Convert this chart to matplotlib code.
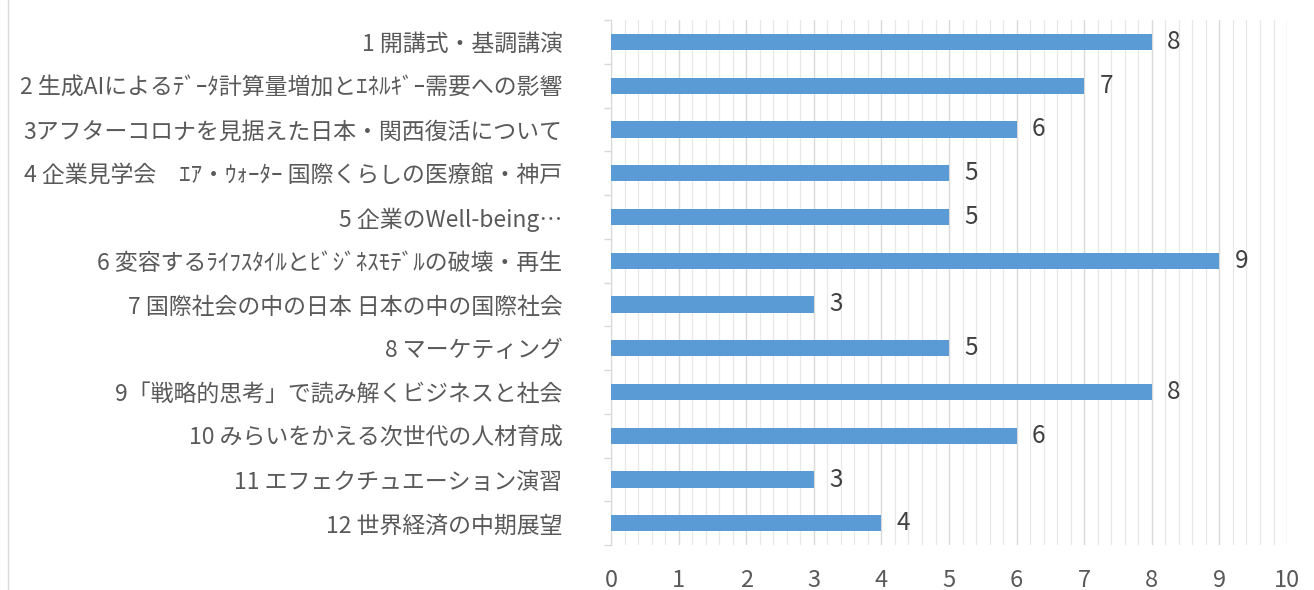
import matplotlib
matplotlib.use('Agg')
import matplotlib.pyplot as plt
from matplotlib.ticker import MultipleLocator
from matplotlib.lines import Line2D

plt.rcParams['font.family'] = ['Noto Sans CJK JP', 'DejaVu Sans']

labels = [
    '1 開講式・基調講演',
    '2 生成AIによるﾃﾞｰﾀ計算量増加とｴﾈﾙｷﾞｰ需要への影響',
    '3アフターコロナを見据えた日本・関西復活について',
    '4 企業見学会　ｴｱ・ｳｫｰﾀｰ 国際くらしの医療館・神戸',
    '5 企業のWell-being…',
    '6 変容するﾗｲﾌｽﾀｲﾙとﾋﾞｼﾞﾈｽﾓﾃﾞﾙの破壊・再生',
    '7 国際社会の中の日本 日本の中の国際社会',
    '8 マーケティング',
    '9「戦略的思考」で読み解くビジネスと社会',
    '10 みらいをかえる次世代の人材育成',
    '11 エフェクチュエーション演習',
    '12 世界経済の中期展望',
]
counts = [8, 7, 6, 5, 5, 9, 3, 5, 8, 6, 3, 4]

bar_color = '#5B9BD5'
text_color = '#595959'

fig = plt.figure(figsize=(13.14, 5.9), dpi=100)
ax = fig.add_axes([0.465, 0.076, 0.5145, 0.890])

ypos = list(range(len(labels)))
ax.barh(ypos, counts, height=0.37, color=bar_color, zorder=3)

for y, v in zip(ypos, counts):
    ax.annotate(str(v), (v, y), xytext=(11, 0), textcoords='offset points',
                va='center', ha='left', fontsize=17.5, color='#404040')

ax.set_xlim(0, 10)
ax.set_ylim(len(labels) - 0.5, -0.5)
ax.set_yticks(ypos)
ax.set_yticklabels(labels, fontsize=16.5, color=text_color)
ax.set_xticks(range(0, 11))
ax.tick_params(axis='x', labelsize=17, labelcolor=text_color, length=0, pad=17)
ax.tick_params(axis='y', length=0, pad=35)
ax.xaxis.set_minor_locator(MultipleLocator(0.2))
ax.tick_params(axis='x', which='minor', length=0)

# category boundary ticks on the left axis line
ax.set_yticks([i - 0.5 for i in range(len(labels) + 1)], minor=True)
ax.tick_params(axis='y', which='minor', length=5, color='#D9D9D9', width=1)

ax.grid(axis='x', which='major', color='#D9D9D9', linewidth=1, zorder=0)
ax.grid(axis='x', which='minor', color='#E8E8E8', linewidth=0.9, zorder=0)

for s in ['top', 'right', 'bottom']:
    ax.spines[s].set_visible(False)
ax.spines['left'].set_color('#D9D9D9')

# outer chart border on the left
fig.add_artist(Line2D([0.006, 0.006], [0, 1], transform=fig.transFigure,
                      color='#D9D9D9', linewidth=1))

plt.savefig('out.png', dpi=100)
